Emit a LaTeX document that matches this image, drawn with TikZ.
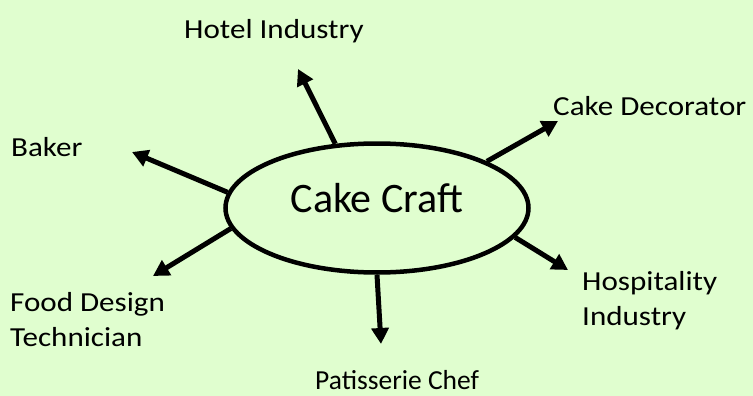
\documentclass[tikz,border=0pt]{standalone}
\usepackage{fontspec}
\setmainfont{Carlito}
\newfontfamily\labelfont[FakeStretch=1.13]{Carlito}
\usetikzlibrary{shapes.geometric,arrows.meta}
\definecolor{paleGreen}{RGB}{224,254,207}

\begin{document}
\begin{tikzpicture}[x=1pt,y=-1pt,
    spoke/.style={line width=5pt,-{Triangle[length=16pt,width=17pt]}},
    career/.style={anchor=base west,inner sep=0pt,align=left,
        font=\labelfont\fontsize{27.5}{34.5}\selectfont}]
    % Draw the background
    \fill[paleGreen] (0,0) rectangle (753,396);
    \useasboundingbox (0,0) rectangle (753,396);
    % Draw the central ellipse
    \node[ellipse,draw,line width=4.5pt,minimum width=303pt,minimum height=129pt,
        inner sep=0pt,text depth=21pt,font=\fontsize{42}{48}\selectfont]
        (cc) at (377,208) {Cake Craft};
    % Arrow ends
    \coordinate (hotelEnd) at (298,69);
    \coordinate (decoEnd) at (558,121);
    \coordinate (bakerEnd) at (132,152);
    \coordinate (foodEnd) at (153,276);
    \coordinate (chefEnd) at (381,344);
    \coordinate (hospEnd) at (568,270);
    % Draw the spokes
    \draw[spoke] (cc.123) -- (hotelEnd);
    \draw[spoke] (cc.23) -- (decoEnd);
    \draw[spoke] (cc.174) -- (bakerEnd);
    \draw[spoke] (cc.188) -- (foodEnd);
    \draw[spoke] (cc.270) -- (chefEnd);
    \draw[spoke] (cc.348) -- (hospEnd);
    % Label the careers (base is the last line)
    \node[career] (hotel) at (184,39) {Hotel Industry};
    \node[career] (deco) at (553,116) {Cake Decorator};
    \node[career] (baker) at (11,157) {Baker};
    \node[career] (food) at (10,346) {Food Design\\Technician};
    \node[career] (hosp) at (582,325) {Hospitality\\Industry};
    \node[career,font=\fontsize{27.5}{34.5}\selectfont] (chef) at (315,389) {Patisserie Chef};
\end{tikzpicture}
\end{document}
